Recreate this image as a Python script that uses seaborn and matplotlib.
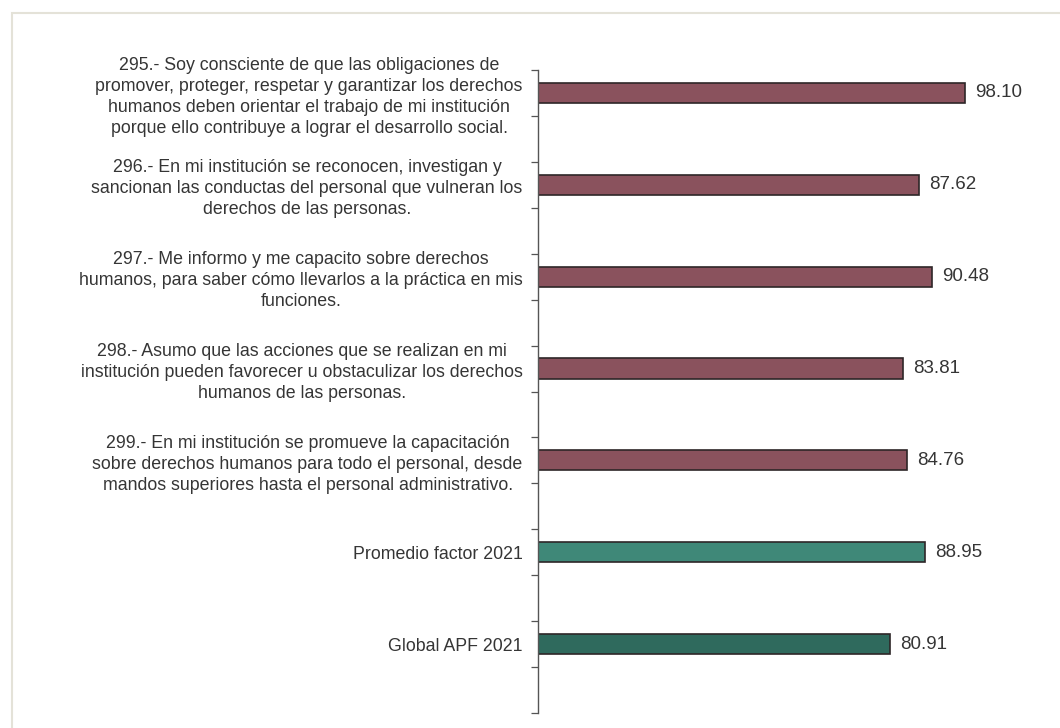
import matplotlib
matplotlib.use("Agg")
import matplotlib.pyplot as plt
from matplotlib.patches import Rectangle
import numpy as np
import pandas as pd
import seaborn as sns

# Reactivos del factor y sus puntajes
categories = [
    "295.- Soy consciente de que las obligaciones de\npromover, proteger, respetar y garantizar los derechos\nhumanos deben orientar el trabajo de mi institución\nporque ello contribuye a lograr el desarrollo social.",
    "296.- En mi institución se reconocen, investigan y\nsancionan las conductas del personal que vulneran los\nderechos de las personas.",
    "297.- Me informo y me capacito sobre derechos\nhumanos, para saber cómo llevarlos a la práctica en mis\nfunciones.",
    "298.- Asumo que las acciones que se realizan en mi\ninstitución pueden favorecer u obstaculizar los derechos\nhumanos de las personas.",
    "299.- En mi institución se promueve la capacitación\nsobre derechos humanos para todo el personal, desde\nmandos superiores hasta el personal administrativo.",
    "Promedio factor 2021",
    "Global APF 2021",
]
scores = [98.10, 87.62, 90.48, 83.81, 84.76, 88.95, 80.91]
bar_colors = ["#8a525d", "#8a525d", "#8a525d", "#8a525d", "#8a525d", "#3f8878", "#2f6a5d"]

df = pd.DataFrame({"reactivo": categories, "puntaje": scores})

sns.set_theme(style="white")
plt.rcParams["font.family"] = ["Liberation Sans", "DejaVu Sans"]

fig = plt.figure(figsize=(10.6, 7.28), dpi=100)
fig.patch.set_facecolor("white")
ax = fig.add_axes([538 / 1060, 1 - 713 / 728, 500.6 / 1060, 643 / 728])

sns.barplot(data=df, x="puntaje", y="reactivo", hue="reactivo", palette=bar_colors,
            saturation=1, orient="h", width=0.22, legend=False, ax=ax,
            edgecolor="#2e2628", linewidth=1.2)

ax.set_xlim(0, 115)
ax.set_ylim(6.75, -0.25)
ax.set_xlabel("")
ax.set_ylabel("")
ax.set_xticks([])

# Etiquetas de reactivos centradas, ticks menores en los bordes de cada banda
ax.set_yticks(range(len(categories)))
ax.set_yticklabels(categories, fontsize=12.8, color="#353535",
                   multialignment="center", linespacing=1.3)
ax.tick_params(axis="y", which="major", length=0, pad=11)
ax.set_yticks(np.arange(-0.25, 6.76, 0.5), minor=True)
ax.tick_params(axis="y", which="minor", length=5, width=0.9, color="#555555",
               direction="out", left=True)

for side in ["top", "right", "bottom"]:
    ax.spines[side].set_visible(False)
ax.spines["left"].set_color("#555555")
ax.spines["left"].set_linewidth(1.0)

for i, v in enumerate(scores):
    ax.text(v + 2.3, i, f"{v:.2f}", va="center", ha="left",
            fontsize=13.5, color="#353535")

# Marco exterior tenue
fig.patches.append(Rectangle((12 / 1060, -0.05), 1.2, 1 - 13 / 728 + 0.05,
                             transform=fig.transFigure, fill=False,
                             edgecolor="#e4e2d8", linewidth=1.5, zorder=0))

fig.savefig("out.png", dpi=100, facecolor="white")
